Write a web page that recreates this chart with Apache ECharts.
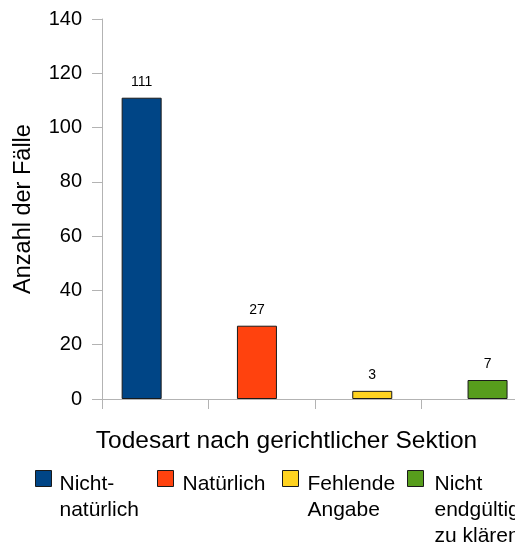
<!DOCTYPE html>
<html>
<head>
<meta charset="utf-8">
<script src="https://cdn.jsdelivr.net/npm/echarts@6/dist/echarts.min.js"></script>
<style>
html,body{margin:0;padding:0;background:#fff;}
#chart{width:515px;height:547px;}
</style>
</head>
<body>
<div id="chart"></div>
<script>
var categories = ['Nicht-natürlich', 'Natürlich', 'Fehlende Angabe', 'Nicht endgültig zu klären'];
var legendLabels = ['Nicht-\nnatürlich', 'Natürlich', 'Fehlende\nAngabe', 'Nicht\nendgültig\nzu klären'];
var values = [111, 27, 3, 7];
var colors = ['#004586', '#ff420e', '#ffd320', '#579d1c'];
var yTicks = { min: 0, max: 140, interval: 20 };
var xTitle = 'Todesart nach gerichtlicher Sektion';
var yTitle = 'Anzahl der Fälle';

var FONT = '"Liberation Sans", Arial, sans-serif';
var AXIS_COLOR = '#b3b3b3';

var legendLeft = [35, 157, 282, 407];
var legendPadLeft = [3, 4, 4, 6];
var LINE_H = 26;
var SQ = 16;
var TEXT_DROP = 11;

var series = values.map(function (v, i) {
  return {
    type: 'bar',
    name: legendLabels[i],
    xAxisIndex: 1,
    yAxisIndex: 1,
    stack: 'all',
    barWidth: 40,
    data: values.map(function (w, j) { return j === i ? w : null; }),
    itemStyle: { color: colors[i], borderColor: '#1a1a1a', borderWidth: 1 },
    label: {
      show: true,
      position: 'top',
      distance: 9,
      color: '#000',
      fontFamily: FONT,
      fontSize: 14
    },
    emphasis: { disabled: true }
  };
});

var legends = legendLabels.map(function (name, i) {
  var lines = name.split('\n').length;
  var h = SQ + (lines - 1) * LINE_H + TEXT_DROP;
  // square at top of a taller (invisible) icon box so it lines up with the first text line
  var icon = 'path://M0,0L' + SQ + ',0L' + SQ + ',' + SQ + 'L0,' + SQ + 'ZM0,' + h;
  return {
    data: [name],
    left: legendLeft[i],
    top: 470,
    padding: 0,
    orient: 'horizontal',
    icon: icon,
    itemWidth: SQ,
    itemHeight: h,
    symbolKeepAspect: true,
    selectedMode: false,
    itemStyle: { borderColor: '#1a1a1a', borderWidth: 1 },
    textStyle: {
      fontFamily: FONT,
      fontSize: 21,
      color: '#000',
      lineHeight: LINE_H,
      padding: [0, 0, 0, legendPadLeft[i]]
    }
  };
});

var chart = echarts.init(document.getElementById('chart'), null, { renderer: 'canvas' });
chart.setOption({
  animation: false,
  backgroundColor: '#fff',
  textStyle: { fontFamily: FONT },
  grid: [
    { left: 102, top: 19, width: 426, height: 380, outerBoundsMode: 'none', containLabel: false },
    { left: 84, top: 19, width: 461.2, height: 380, outerBoundsMode: 'none', containLabel: false }
  ],
  xAxis: [
    {
      type: 'category',
      gridIndex: 0,
      data: categories,
      boundaryGap: true,
      axisLine: { show: true, lineStyle: { color: AXIS_COLOR, width: 1 } },
      axisTick: { show: true, interval: 0, length: 10, lineStyle: { color: AXIS_COLOR, width: 1 } },
      axisLabel: { show: false, interval: 0 },
      splitLine: { show: false },
      name: xTitle,
      nameLocation: 'middle',
      nameGap: 30,
      nameTextStyle: { fontFamily: FONT, fontSize: 24.5, color: '#000', padding: [0, 57, 0, 0] }
    },
    {
      type: 'category',
      gridIndex: 1,
      data: categories,
      show: false
    }
  ],
  yAxis: [
    {
      type: 'value',
      gridIndex: 0,
      min: yTicks.min,
      max: yTicks.max,
      interval: yTicks.interval,
      axisLine: { show: true, lineStyle: { color: AXIS_COLOR, width: 1 } },
      axisTick: { show: true, length: 10, lineStyle: { color: AXIS_COLOR, width: 1 } },
      axisLabel: { fontFamily: FONT, fontSize: 20, color: '#000', margin: 20 },
      splitLine: { show: false },
      name: yTitle,
      nameLocation: 'middle',
      nameGap: 66,
      nameTextStyle: { fontFamily: FONT, fontSize: 23.5, color: '#000' }
    },
    {
      type: 'value',
      gridIndex: 1,
      min: yTicks.min,
      max: yTicks.max,
      interval: yTicks.interval,
      show: false
    }
  ],
  legend: legends,
  series: series
});
</script>
</body>
</html>
